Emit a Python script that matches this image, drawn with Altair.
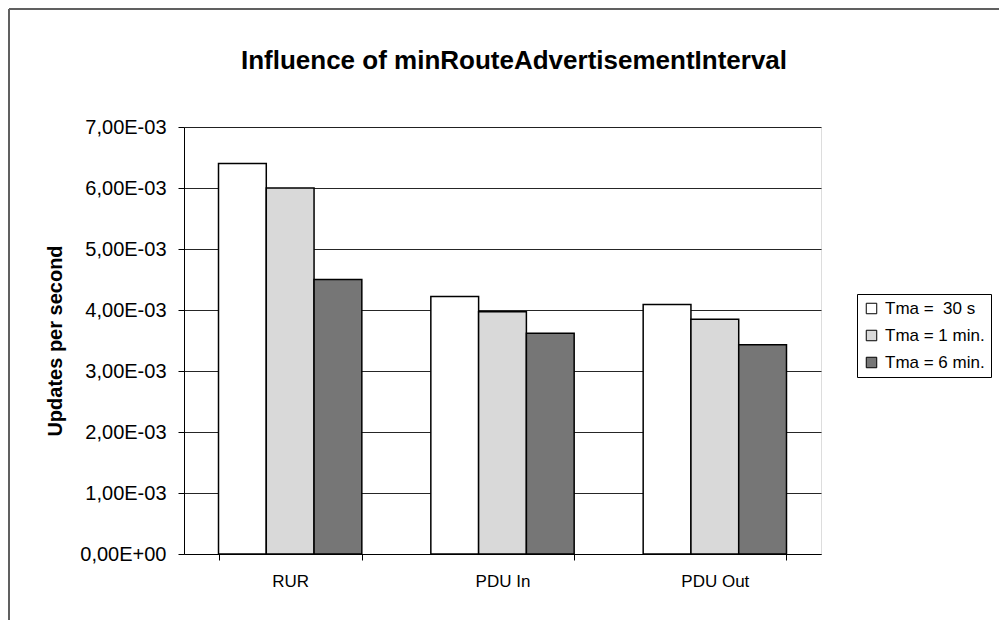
import altair as alt
import pandas as pd

categories = ["RUR", "PDU In", "PDU Out"]
series = ["Tma = \u00a030 s", "Tma = 1 min.", "Tma = 6 min."]
tma_30s = [6.40e-3, 4.22e-3, 4.09e-3]
tma_1min = [6.00e-3, 3.97e-3, 3.85e-3]
tma_6min = [4.50e-3, 3.62e-3, 3.43e-3]
y_ticks = [0, 0.001, 0.002, 0.003, 0.004, 0.005, 0.006, 0.007]
fills = ["#ffffff", "#d9d9d9", "#767676"]
chart_title = "Influence of minRouteAdvertisementInterval"

rows = []
for s, vals in zip(series, [tma_30s, tma_1min, tma_6min]):
    for c, v in zip(categories, vals):
        rows.append({"category": c, "series": s, "value": v})
df = pd.DataFrame(rows)

FONT = "Liberation Sans"

bars = alt.Chart(df).mark_bar(stroke="black", strokeWidth=1.5).encode(
    x=alt.X("category:N", sort=categories,
            scale=alt.Scale(paddingInner=0.325, paddingOuter=0.1625),
            axis=alt.Axis(title=None, labelAngle=0, tickBand="extent",
                          tickSize=6, tickColor="black", domainColor="black",
                          labelColor="black", labelFontSize=17, labelFont=FONT,
                          labelPadding=13, grid=False)),
    xOffset=alt.XOffset("series:N", sort=series, scale=alt.Scale(paddingInner=0, paddingOuter=0)),
    y=alt.Y("value:Q", scale=alt.Scale(domain=[0, 0.007], nice=False),
            axis=alt.Axis(title="Updates per second", values=y_ticks,
                          labelExpr="datum.value == 0 ? '0,00E+00' : replace(format(datum.value * 1000, '.2f'), '.', ',') + 'E-03'",
                          tickSize=6, tickColor="black", domainColor="black",
                          labelColor="black", labelFontSize=20, labelFont=FONT,
                          labelPadding=12, grid=True, gridColor="black",
                          gridWidth=1, gridOpacity=0.85,
                          titleFont=FONT, titleFontSize=20, titleFontWeight="bold",
                          titleColor="black", titleX=-129, titleY=213.5,
                          titleAngle=270, titleAlign="center", titleBaseline="middle")),
    fill=alt.Fill("series:N", sort=series,
                  scale=alt.Scale(domain=series, range=fills),
                  legend=alt.Legend(title=None, orient="none", legendX=673, legendY=167,
                                    symbolType="square", symbolSize=110,
                                    symbolStrokeColor="black", symbolStrokeWidth=1,
                                    labelFont=FONT, labelFontSize=17, labelColor="black",
                                    labelOffset=5, rowPadding=9, padding=6,
                                    strokeColor="black", fillColor="white",
                                    labelLimit=300)),
)

frame_left = alt.Chart(df).mark_rule(color="#606060", strokeWidth=2).encode(
    x=alt.value(-175), y=alt.value(-118), y2=alt.value(600))
frame_top = alt.Chart(df).mark_rule(color="#606060", strokeWidth=2).encode(
    x=alt.value(-175), x2=alt.value(900), y=alt.value(-118))

title_text = alt.Chart(pd.DataFrame({"t": [chart_title]})).mark_text(
    font=FONT, fontSize=26, fontWeight="bold", color="black",
    align="center", baseline="alphabetic").encode(
    x=alt.value(330), y=alt.value(-58), text="t:N")

chart = alt.layer(frame_left, frame_top, bars, title_text).properties(
    width=637, height=427,
    autosize=alt.AutoSizeParams(type="none"),
    padding={"left": 176, "top": 119, "right": 178, "bottom": 66},
).configure_view(stroke="#808080", strokeWidth=1.5).configure(background="white")

chart.save("out.html", embed_options={"renderer": "svg", "actions": False})
